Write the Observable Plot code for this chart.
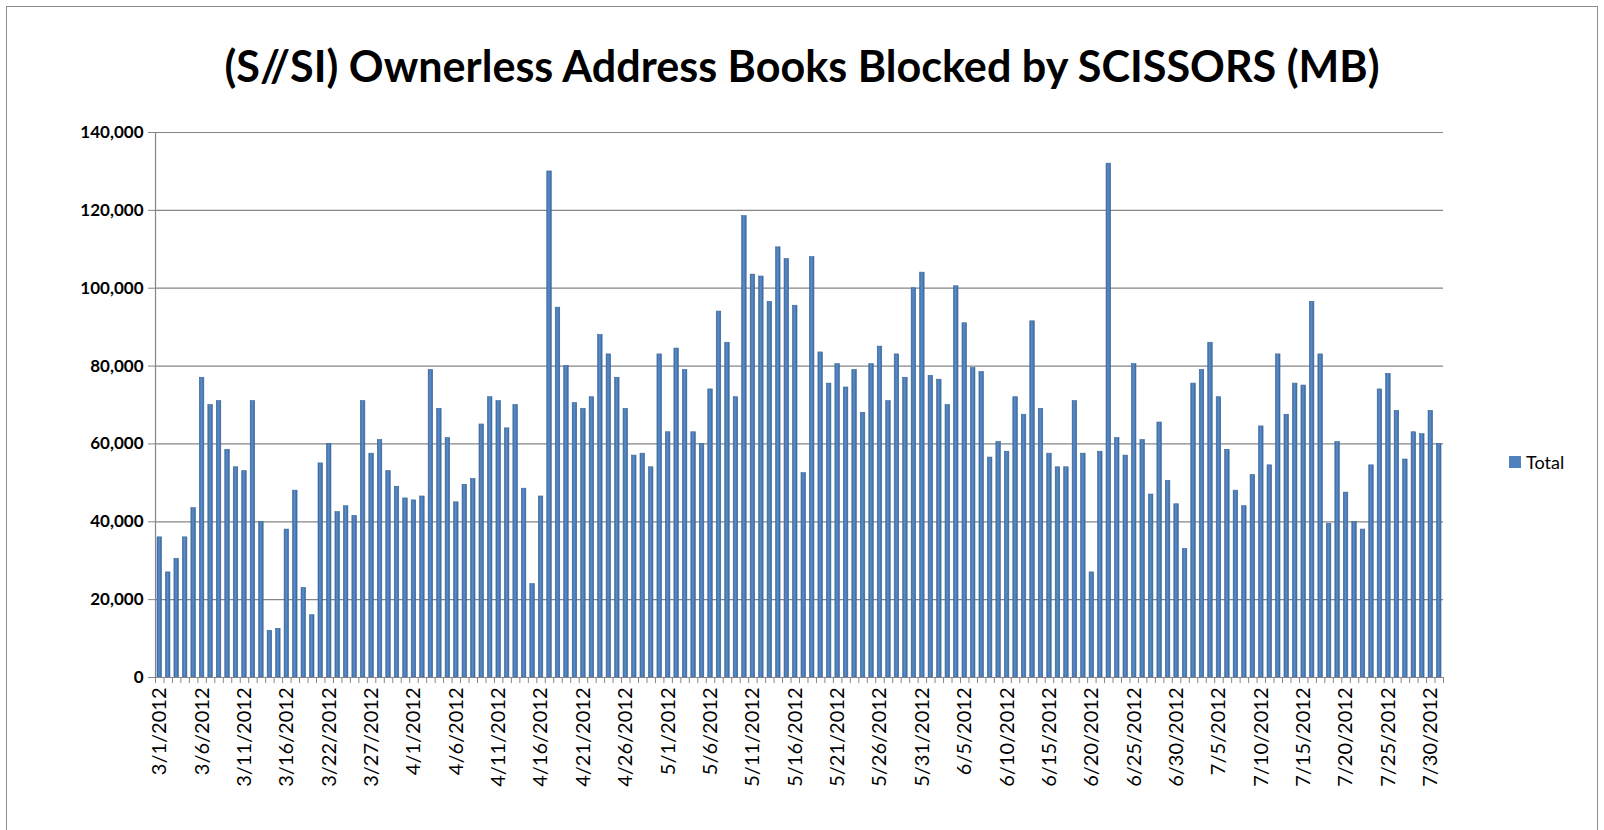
<!DOCTYPE html>
<html><head><meta charset="utf-8">
<script src="https://cdn.jsdelivr.net/npm/d3@7"></script>
<script src="https://cdn.jsdelivr.net/npm/@observablehq/plot@0.6"></script>
<style>
body{margin:0;background:#fff;}
#wrap{position:relative;width:1604px;height:830px;overflow:hidden;font-family:Lato,"Open Sans",sans-serif;background:#fff;}
#border{position:absolute;left:6px;top:6px;width:1592px;height:840px;border:1.5px solid #8c8c8c;box-sizing:border-box;pointer-events:none;}
#title{position:absolute;left:0;width:1604px;text-align:center;font-weight:bold;color:#000;white-space:nowrap;}
#chart{position:absolute;left:0;top:100px;}
#legend{position:absolute;left:1509px;top:451px;display:flex;align-items:center;font-size:18px;color:#000;}
#legend .sw{width:12px;height:12px;background:#4F81BD;margin-right:5px;}
</style></head>
<body>
<div id="wrap"><div id="title"></div><div id="chart"></div><div id="legend"></div><div id="border"></div></div>
<script>
const title = "(S//SI) Ownerless Address Books Blocked by SCISSORS (MB)";
const seriesName = "Total";

const marchDates = ["3/1/2012","3/2/2012","3/3/2012","3/4/2012","3/5/2012","3/6/2012","3/7/2012","3/8/2012","3/9/2012","3/10/2012","3/11/2012","3/12/2012","3/13/2012","3/14/2012","3/15/2012","3/16/2012","3/17/2012","3/19/2012","3/20/2012","3/21/2012","3/22/2012","3/23/2012","3/24/2012","3/25/2012","3/26/2012","3/27/2012","3/28/2012","3/29/2012","3/30/2012","3/31/2012"];
const aprilDates = ["4/1/2012","4/2/2012","4/3/2012","4/4/2012","4/5/2012","4/6/2012","4/7/2012","4/8/2012","4/9/2012","4/10/2012","4/11/2012","4/12/2012","4/13/2012","4/14/2012","4/15/2012","4/16/2012","4/17/2012","4/18/2012","4/19/2012","4/20/2012","4/21/2012","4/22/2012","4/23/2012","4/24/2012","4/25/2012","4/26/2012","4/27/2012","4/28/2012","4/29/2012","4/30/2012"];
const mayDates = ["5/1/2012","5/2/2012","5/3/2012","5/4/2012","5/5/2012","5/6/2012","5/7/2012","5/8/2012","5/9/2012","5/10/2012","5/11/2012","5/12/2012","5/13/2012","5/14/2012","5/15/2012","5/16/2012","5/17/2012","5/18/2012","5/19/2012","5/20/2012","5/21/2012","5/22/2012","5/23/2012","5/24/2012","5/25/2012","5/26/2012","5/27/2012","5/28/2012","5/29/2012","5/30/2012","5/31/2012"];
const juneDates = ["6/1/2012","6/2/2012","6/3/2012","6/4/2012","6/5/2012","6/6/2012","6/7/2012","6/8/2012","6/9/2012","6/10/2012","6/11/2012","6/12/2012","6/13/2012","6/14/2012","6/15/2012","6/16/2012","6/17/2012","6/18/2012","6/19/2012","6/20/2012","6/21/2012","6/22/2012","6/23/2012","6/24/2012","6/25/2012","6/26/2012","6/27/2012","6/28/2012","6/29/2012","6/30/2012"];
const julyDates = ["7/1/2012","7/2/2012","7/3/2012","7/4/2012","7/5/2012","7/6/2012","7/7/2012","7/8/2012","7/9/2012","7/10/2012","7/11/2012","7/12/2012","7/13/2012","7/14/2012","7/15/2012","7/16/2012","7/17/2012","7/18/2012","7/19/2012","7/20/2012","7/21/2012","7/22/2012","7/23/2012","7/24/2012","7/25/2012","7/26/2012","7/27/2012","7/28/2012","7/29/2012","7/30/2012","7/31/2012"];

const marchValues = [36000,27000,30500,36000,43500,77000,70000,71000,58500,54000,53000,71000,40000,12000,12500,38000,48000,23000,16000,55000,60000,42500,44000,41500,71000,57500,61000,53000,49000,46000];
const aprilValues = [45500,46500,79000,69000,61500,45000,49500,51000,65000,72000,71000,64000,70000,48500,24000,46500,130000,95000,80000,70500,69000,72000,88000,83000,77000,69000,57000,57500,54000,83000];
const mayValues = [63000,84500,79000,63000,60000,74000,94000,86000,72000,118500,103500,103000,96500,110500,107500,95500,52500,108000,83500,75500,80500,74500,79000,68000,80500,85000,71000,83000,77000,100000,104000];
const juneValues = [77500,76500,70000,100500,91000,79500,78500,56500,60500,58000,72000,67500,91500,69000,57500,54000,54000,71000,57500,27000,58000,132000,61500,57000,80500,61000,47000,65500,50500,44500];
const julyValues = [33000,75500,79000,86000,72000,58500,48000,44000,52000,64500,54500,83000,67500,75500,75000,96500,83000,39500,60500,47500,40000,38000,54500,74000,78000,68500,56000,63000,62500,68500,60000];

const yTicks = [0,20000,40000,60000,80000,100000,120000,140000];
const xTickLabels = ["3/1/2012","3/6/2012","3/11/2012","3/16/2012","3/22/2012","3/27/2012","4/1/2012","4/6/2012","4/11/2012","4/16/2012","4/21/2012","4/26/2012","5/1/2012","5/6/2012","5/11/2012","5/16/2012","5/21/2012","5/26/2012","5/31/2012","6/5/2012","6/10/2012","6/15/2012","6/20/2012","6/25/2012","6/30/2012","7/5/2012","7/10/2012","7/15/2012","7/20/2012","7/25/2012","7/30/2012"];

const dates = [...marchDates, ...aprilDates, ...mayDates, ...juneDates, ...julyDates];
const values = [...marchValues, ...aprilValues, ...mayValues, ...juneValues, ...julyValues];
const data = dates.map((d, i) => ({date: d, value: values[i]}));

// title sized to fit target width
const titleEl = document.getElementById("title");
const ctx = document.createElement("canvas").getContext("2d");
ctx.font = "bold 100px Lato";
const tfs = 100 * 1158 / ctx.measureText(title).width;
titleEl.textContent = title;
titleEl.style.fontSize = tfs + "px";
titleEl.style.lineHeight = "1";
titleEl.style.top = (66 - tfs * 0.52) + "px";

const W = 1604, H = 730;
const mL = 155, mR = W - 1443, mT = 32, mB = 153;
const step = (W - mL - mR) / dates.length;
const pin = 0.47;
const gridColor = "#868686";

const svg = Plot.plot({
  width: W, height: H,
  marginLeft: mL, marginRight: mR, marginTop: mT, marginBottom: mB,
  style: {fontFamily: "Lato, 'Open Sans', sans-serif", background: "white", color: "#000"},
  x: {type: "band", domain: dates, paddingInner: pin, paddingOuter: pin / 2, align: 0.5, axis: null, label: null},
  y: {domain: [0, 140000], axis: null, label: null},
  marks: [
    Plot.gridY(yTicks, {stroke: gridColor, strokeOpacity: 1, strokeWidth: 1.2}),
    Plot.barY(data, {x: "date", y: "value", fill: "url(#barGrad)", stroke: "#3b6799", strokeWidth: 0.6}),
    Plot.ruleY([0], {stroke: gridColor, strokeWidth: 1.2}),
    Plot.ruleX([dates[0]], {y1: 0, y2: 140000, dx: -step / 2, stroke: gridColor, strokeWidth: 1.2}),
    Plot.axisY(yTicks, {label: null, tickSize: 7, tickPadding: 5, tickFormat: d3.format(","), fontWeight: "bold", fontSize: 17, stroke: gridColor, fill: "#000"}),
    Plot.axisX(dates, {label: null, tickSize: 6, tickFormat: () => "", dx: -step / 2, stroke: gridColor}),
    Plot.axisX([dates[dates.length - 1]], {label: null, tickSize: 6, tickFormat: () => "", dx: step / 2, stroke: gridColor}),
    Plot.axisX(xTickLabels, {label: null, tickSize: 0, tickPadding: 10, tickRotate: -90, fontSize: 20, fill: "#000"})
  ]
});

const defs = d3.select(svg).insert("defs", ":first-child");
const grad = defs.append("linearGradient").attr("id", "barGrad").attr("x1", 0).attr("x2", 1).attr("y1", 0).attr("y2", 0);
grad.append("stop").attr("offset", "0%").attr("stop-color", "#3c6aa2");
grad.append("stop").attr("offset", "45%").attr("stop-color", "#5b8dcb");
grad.append("stop").attr("offset", "100%").attr("stop-color", "#3a679d");

document.getElementById("chart").appendChild(svg);

const leg = document.getElementById("legend");
const sw = document.createElement("div"); sw.className = "sw";
const lt = document.createElement("span"); lt.textContent = seriesName;
leg.appendChild(sw); leg.appendChild(lt);
</script>
</body></html>
